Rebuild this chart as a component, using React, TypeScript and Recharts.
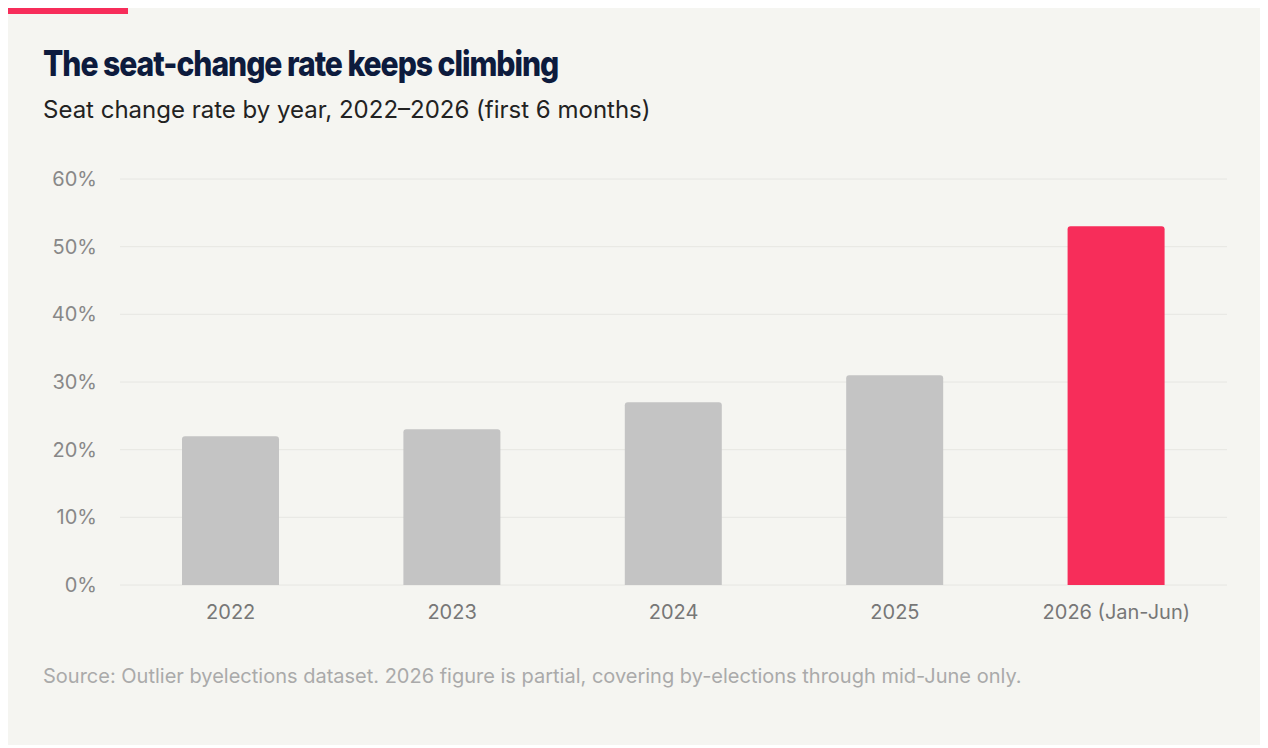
import { Bar, BarChart, CartesianGrid, Cell, XAxis, YAxis } from "recharts";

const years = ["2022", "2023", "2024", "2025", "2026 (Jan-Jun)"];
const seatChangeRate = [22, 23, 27, 31, 53];
const yTicks = [0, 10, 20, 30, 40, 50, 60];
const highlightYear = "2026 (Jan-Jun)";

const data = years.map((year, i) => ({ year, rate: seatChangeRate[i] }));

const font = "Inter, 'Noto Sans', sans-serif";

export default function App() {
  return (
    <div
      style={{
        position: "relative",
        marginLeft: -5,
        marginTop: -8,
        width: 1262,
        height: 745,
        background: "#f5f5f1",
        fontFamily: font,
      }}
    >
      <div style={{ position: "absolute", left: 0, top: 0, width: 125, height: 14, background: "#f72d5a" }} />
      <div
        style={{
          position: "absolute",
          left: 40,
          top: 42,
          fontSize: 35,
          fontWeight: 800,
          color: "#0d1b3d",
          letterSpacing: -1.2,
          transform: "scaleX(0.86)",
          transformOrigin: "left",
          whiteSpace: "nowrap",
        }}
      >
        The seat-change rate keeps climbing
      </div>
      <div style={{ position: "absolute", left: 40, top: 95, fontSize: 24, color: "#222" }}>
        Seat change rate by year, 2022–2026 (first 6 months)
      </div>
      <div style={{ position: "absolute", left: 0, top: 160 }}>
        <BarChart
          width={1262}
          height={500}
          data={data}
          margin={{ top: 19, right: 38, bottom: 35, left: 0 }}
          barCategoryGap="28%"
        >
          <CartesianGrid vertical={false} stroke="#e6e6e2" />
          <XAxis
            dataKey="year"
            axisLine={false}
            tickLine={false}
            height={40}
            tickMargin={14}
            tick={{ fill: "#777", fontSize: 20, fontFamily: font }}
          />
          <YAxis
            width={117}
            domain={[0, 60]}
            ticks={yTicks}
            axisLine={false}
            tickLine={false}
            tickMargin={17}
            tickFormatter={(v: number) => `${v}%`}
            tick={{ fill: "#888", fontSize: 20, fontFamily: font }}
          />
          <Bar dataKey="rate" radius={[3, 3, 0, 0]} isAnimationActive={false}>
            {data.map((d) => (
              <Cell key={d.year} fill={d.year === highlightYear ? "#f72d5a" : "#c4c4c4"} />
            ))}
          </Bar>
        </BarChart>
      </div>
      <div style={{ position: "absolute", left: 40, top: 664, fontSize: 20, color: "#aaa" }}>
        Source: Outlier byelections dataset. 2026 figure is partial, covering by-elections through mid-June only.
      </div>
    </div>
  );
}
